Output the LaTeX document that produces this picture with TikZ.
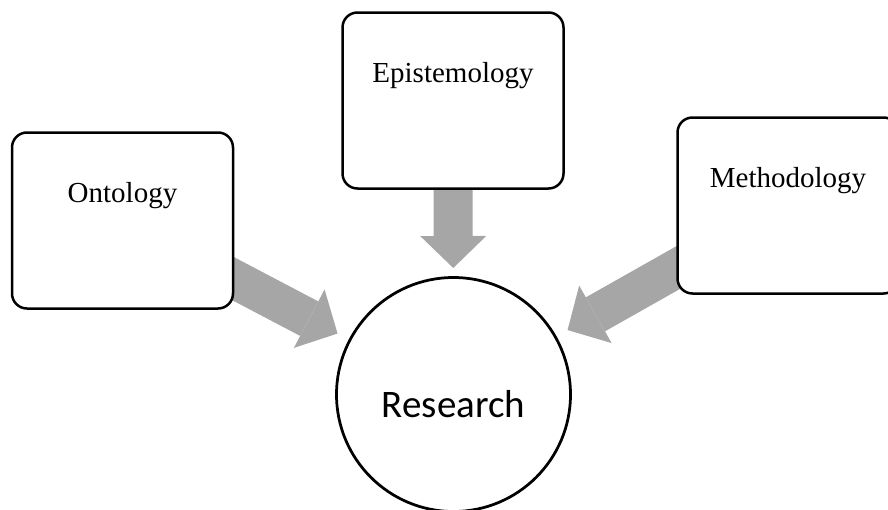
\documentclass[tikz,border=0pt]{standalone}
\usepackage{fontspec}
\setmainfont{Liberation Serif}
\newfontfamily\bodysans{Carlito}
\usetikzlibrary{arrows.meta,backgrounds}
\definecolor{arrowgray}{RGB}{166,166,166}
\tikzset{
  conceptbox/.style={draw=black, line width=2.5pt, fill=white, rounded corners=15pt,
    minimum width=221pt, minimum height=176pt, inner sep=0pt, outer sep=0pt,
    text height=0pt, text depth=36pt,
    font=\fontsize{29}{34}\selectfont},
  hubcircle/.style={circle, draw=black, line width=2.75pt, fill=white,
    minimum size=234pt, inner sep=0pt, outer sep=0pt,
    text height=45pt, text depth=0pt,
    font=\bodysans\fontsize{39}{46}\selectfont},
  fatarrow/.style={draw=arrowgray, line width=39pt,
    -{Triangle[width=66pt,length=32pt,line width=0pt]}}
}
\begin{document}
\begin{tikzpicture}[x=1pt,y=-1pt]
  \useasboundingbox (0,0) rectangle (888,509);
  \node[conceptbox] (ont) at (122.5,220.5) {Ontology};
  \node[conceptbox] (epi) at (453,100.5) {Epistemology};
  \node[conceptbox] (met) at (788,205.5) {Methodology};
  \node[hubcircle] (res) at (453.5,394.5) {Research};
  \begin{scope}[on background layer]
    \draw[fatarrow, shorten >=14pt] (ont.center) -- (res);
    \draw[fatarrow, shorten >=9.5pt] (epi.center) -- (res);
    \draw[fatarrow, shorten >=14pt] (met.center) -- (res);
  \end{scope}
\end{tikzpicture}
\end{document}
